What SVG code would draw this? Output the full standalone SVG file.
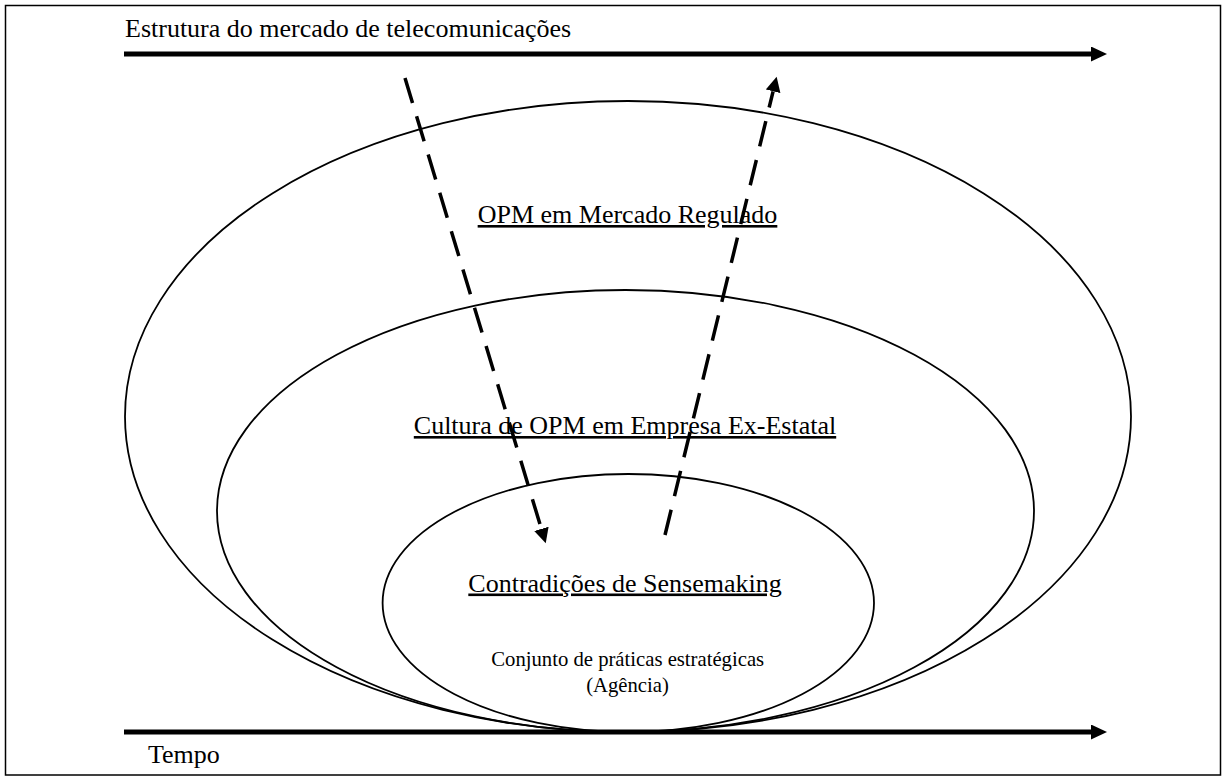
<svg xmlns="http://www.w3.org/2000/svg" width="1226" height="776" viewBox="0 0 1226 776">
  <style>
    .frame { fill: #fff; stroke: #000; stroke-width: 1.5; }
    .ring { fill: none; stroke: #000; stroke-width: 1.8; }
    .axis { stroke: #000; stroke-width: 5; fill: none; }
    .flow { stroke: #000; stroke-width: 3.5; fill: none; stroke-dasharray: 26 14; }
    .lbl { font-family: "Liberation Serif", "Times New Roman", serif; fill: #000; }
    .big { font-size: 26px; }
    .small { font-size: 20.7px; }
    .u { text-decoration: underline; }
  </style>
  <defs>
    <marker id="headAxis" markerUnits="userSpaceOnUse" markerWidth="16" markerHeight="16" refX="0" refY="7.5" orient="auto">
      <path d="M0,0 L16,7.5 L0,15 z" fill="#000"/>
    </marker>
    <marker id="headFlow" markerUnits="userSpaceOnUse" markerWidth="16" markerHeight="16" refX="0" refY="7.5" orient="auto">
      <path d="M0,0 L15,7.5 L0,15 z" fill="#000"/>
    </marker>
  </defs>

  <rect class="frame" x="5.5" y="5.5" width="1215" height="769.5"/>

  <!-- nested contexts -->
  <g id="mercado-regulado">
    <ellipse class="ring" cx="628" cy="416.5" rx="503" ry="315.5"/>
    <text class="lbl big u" x="627.5" y="223" text-anchor="middle">OPM em Mercado Regulado</text>
  </g>
  <g id="cultura-ex-estatal">
    <ellipse class="ring" cx="625.5" cy="511" rx="408.5" ry="221"/>
    <text class="lbl big u" x="625" y="434" text-anchor="middle">Cultura de OPM em Empresa Ex-Estatal</text>
  </g>
  <g id="sensemaking">
    <ellipse class="ring" cx="628.3" cy="603" rx="245.7" ry="129"/>
    <text class="lbl big u" x="625" y="591.5" text-anchor="middle">Contradições de Sensemaking</text>
    <text class="lbl small" x="627.7" y="665.5" text-anchor="middle">Conjunto de práticas estratégicas</text>
    <text class="lbl small" x="627.5" y="691.5" text-anchor="middle">(Agência)</text>
  </g>

  <!-- axes -->
  <g id="estrutura">
    <text class="lbl big" x="125" y="37">Estrutura do mercado de telecomunicações</text>
  </g>
  <g id="tempo">
    <text class="lbl big" x="148" y="763">Tempo</text>
  </g>

  <g id="connectors">
    <line class="axis" x1="124" y1="54" x2="1091" y2="54" marker-end="url(#headAxis)"/>
    <line class="axis" x1="124" y1="732" x2="1091" y2="732" marker-end="url(#headAxis)"/>
    <line class="flow" x1="405" y1="78" x2="541.4" y2="528.9" marker-end="url(#headFlow)"/>
    <line class="flow" x1="665" y1="535" x2="773.1" y2="91.3" marker-end="url(#headFlow)"/>
  </g>
</svg>
